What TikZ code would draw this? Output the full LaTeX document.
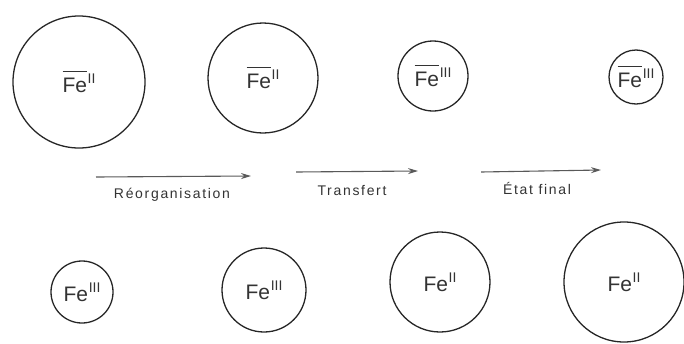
\documentclass[tikz,border=0pt]{standalone}
\usepackage{fontspec}
\setmainfont{Liberation Sans}
\usetikzlibrary{arrows.meta}
\newcommand{\ovfe}{\makebox[0pt][l]{\raisebox{0.95em}{\rule{1.17em}{0.05em}}}Fe}
\newcommand{\oxnum}[1]{\raisebox{0.42em}{\fontsize{14}{14}\selectfont\kern0.05em#1}}
\tikzset{
  ion/.style={circle, draw=black!85, line width=1.3pt, inner sep=0pt, font=\fontsize{21}{21}\selectfont, text=black!80},
  reac/.style={draw=black!65, line width=1.1pt, -{Stealth[length=10pt,width=6pt]}},
  lab/.style={font=\fontsize{14}{14}\selectfont\addfontfeature{LetterSpace=12}, text=black!80}
}
\begin{document}
\begin{tikzpicture}[x=1pt,y=-1pt]
\useasboundingbox (0,0) rectangle (684,343);
% top row
\node[ion, minimum size=132pt] (t1) at (79,82) {\ovfe\oxnum{II}};
\node[ion, minimum size=110pt] (t2) at (263,78) {\ovfe\oxnum{II}};
\node[ion, minimum size=70pt] (t3) at (433,76) {\ovfe\oxnum{III}};
\node[ion, minimum size=54pt] (t4) at (636,77) {\ovfe\oxnum{III}};
% arrows
\coordinate (a1s) at (96,177); \coordinate (a1e) at (251,176);
\coordinate (a2s) at (296,172); \coordinate (a2e) at (418,171);
\coordinate (a3s) at (481,172); \coordinate (a3e) at (601,170);
\draw[reac] (a1s) -- (a1e);
\draw[reac] (a2s) -- (a2e);
\draw[reac] (a3s) -- (a3e);
\node[lab] (l1) at (172,195) {Réorganisation};
\node[lab] (l2) at (352,190) {Transfert};
\node[lab] (l3) at (537,188) {État final};
% bottom row
\node[ion, minimum size=62pt] (b1) at (82,292) {Fe\oxnum{III}};
\node[ion, minimum size=84pt] (b2) at (264,290) {Fe\oxnum{III}};
\node[ion, minimum size=100pt] (b3) at (440,282) {Fe\oxnum{II}};
\node[ion, minimum size=120pt] (b4) at (624,282) {Fe\oxnum{II}};
\end{tikzpicture}
\end{document}
